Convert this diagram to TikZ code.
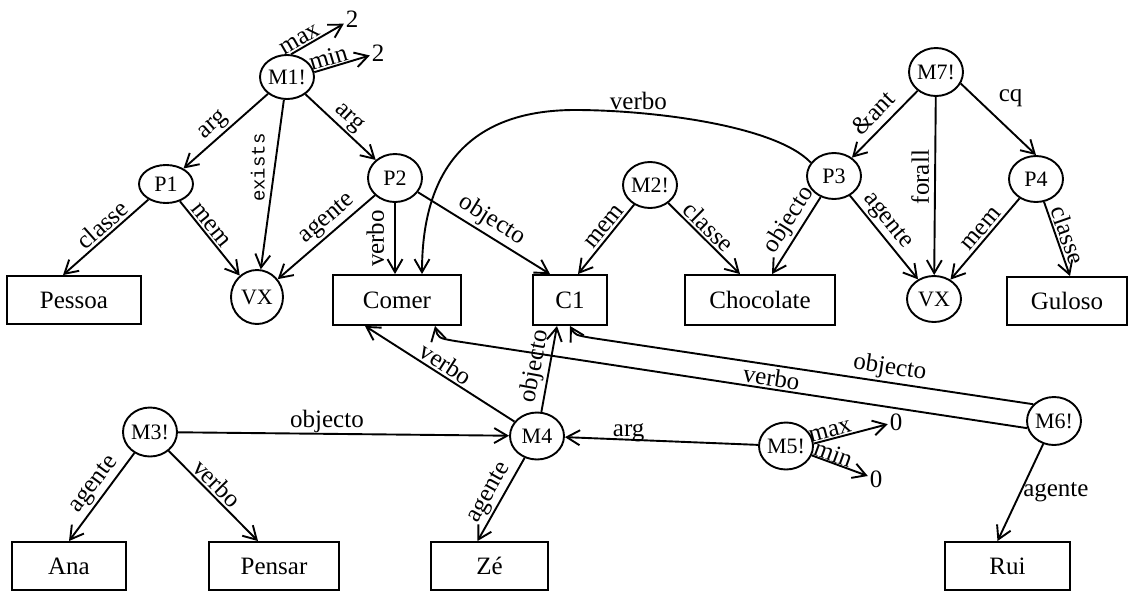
\documentclass[tikz,border=0pt]{standalone}
\usepackage{fontspec}
\setmainfont{Liberation Serif}
\newfontfamily\monofont{Liberation Mono}
\usetikzlibrary{arrows.meta,shapes.geometric}
\begin{document}
\begin{tikzpicture}[x=1pt,y=-1pt,
  line width=1.9pt,
  >={Straight Barb[length=13pt,width=15pt]},
  ell/.style={draw, ellipse, inner sep=0pt, minimum width=54pt, minimum height=46pt, font=\fontsize{22}{22}\selectfont},
  box/.style={draw, rectangle, inner sep=0pt, minimum width=#1, minimum height=48pt, font=\fontsize{25}{25}\selectfont},
  lab/.style={font=\fontsize{25}{25}\selectfont, inner sep=2pt},
  mlab/.style={font=\monofont\fontsize{19}{19}\selectfont, inner sep=2pt},
  num/.style={font=\fontsize{25}{25}\selectfont, inner sep=1pt},
]
\useasboundingbox (0,0) rectangle (1130,592);

% ellipse nodes
\node[ell, minimum height=44pt] (M1) at (287,77) {M1!};
\node[ell, minimum height=38pt] (P1) at (166,184) {P1};
\node[ell, minimum width=52pt, minimum height=54pt] (VXa) at (257,297) {VX};
\node[ell, minimum height=48pt] (P2) at (395,178) {P2};
\node[ell] (M2) at (650,185) {M2!};
\node[ell] (P3) at (834,176) {P3};
\node[ell, minimum height=48pt] (M7) at (936,72) {M7!};
\node[ell] (P4) at (1036,179) {P4};
\node[ell] (VXb) at (934,299) {VX};
\node[ell, minimum height=49pt] (M3) at (150,432) {M3!};
\node[ell, minimum height=47pt] (M4) at (537,436) {M4};
\node[ell, minimum height=47pt] (M5) at (786,446) {M5!};
\node[ell, minimum height=48pt] (M6) at (1054,421) {M6!};

% boxes
\node[box=134pt] (Pessoa) at (74,300) {Pessoa};
\node[box=128pt, minimum height=50pt] (Comer) at (397,300) {Comer};
\node[box=74pt, minimum height=50pt] (C1) at (570,300) {C1};
\node[box=150pt, minimum height=50pt] (Choc) at (760,300) {Chocolate};
\node[box=120pt] (Guloso) at (1067,301) {Guloso};
\node[box=114pt] (Ana) at (69,566) {Ana};
\node[box=130pt] (Pensar) at (274,566) {Pensar};
\node[box=117pt] (Ze) at (489.5,566) {Zé};
\node[box=125pt] (Rui) at (1007.5,566) {Rui};

% number nodes
\node[num] (mx1) at (352,19) {2};
\node[num] (mn1) at (378,53) {2};
\node[num] (mx5) at (896,422) {0};
\node[num] (mn5) at (876,479) {0};

% M1
\draw[->] (M1.80) -- node[lab, sloped, above, pos=0.25, inner sep=1pt]{max} (mx1);
\draw[->] (M1.10) -- node[lab, sloped, above, pos=0.3, inner sep=1pt]{min} (mn1);
\draw[->] (M1) -- node[lab, sloped, above, pos=0.55]{arg} (P1);
\draw[->] (M1) -- node[lab, sloped, above]{arg} (P2);
\draw[->] (M1) -- node[mlab, pos=0.4, rotate=90, anchor=south, inner sep=9pt]{exists} (VXa);

% P1, P2
\draw[->] (P1) -- node[lab, sloped, above, pos=0.45]{classe} ([xshift=-11pt]Pessoa.north);
\draw[->] (P1) -- node[lab, sloped, above, pos=0.4]{mem} (VXa);
\draw[->] (P2) -- node[lab, sloped, above, pos=0.4]{agente} (VXa);
\draw[->] (P2) -- node[lab, rotate=90, anchor=south, inner sep=10pt]{verbo} (P2 |- Comer.north);
\draw[->] (P2) -- node[lab, sloped, above, inner sep=3pt]{objecto} ([xshift=-20pt]C1.north);

% M2
\draw[->] (M2) -- node[lab, sloped, above, pos=0.4]{mem} ([xshift=8pt]C1.north);
\draw[->] (M2) -- node[lab, sloped, above, pos=0.45]{classe} ([xshift=-20pt]Choc.north);

% P3
\coordinate (vpk) at (575,110);
\draw[->] (P3.150) .. controls (775,125) and (650,110) .. (vpk) node[lab, pos=0.75, above]{verbo}
   .. controls (500,110) and (422,140) .. ([xshift=25pt]Comer.north);
\draw[->] (P3) -- node[lab, sloped, above, pos=0.4]{objecto} ([xshift=12pt]Choc.north);
\draw[->] (P3) -- node[lab, sloped, above, pos=0.4]{agente} (VXb);

% M7, P4
\draw[->] (M7) -- node[lab, sloped, above, pos=0.5, inner sep=7pt]{\&ant} (P3);
\draw[->] (M7) -- node[lab, pos=0.45, rotate=90, anchor=south, inner sep=5pt]{forall} (VXb);
\draw[->] (M7.-25) -- node[lab, pos=0.2, anchor=west, xshift=20pt]{cq} (P4.north);
\draw[->] (P4) -- node[lab, sloped, above, pos=0.45]{mem} (VXb);
\draw[->] (P4) -- node[lab, sloped, above]{classe} ([xshift=3pt]Guloso.north);

% M3
\draw[->] (M3) -- node[lab, sloped, above, pos=0.45]{agente} (Ana.north);
\draw[->] (M3) -- node[lab, sloped, above, pos=0.45]{verbo} ([xshift=-16pt]Pensar.north);
\draw[->] (M3) -- node[lab, above, pos=0.45, inner sep=0pt]{objecto} (M4);

% M4
\draw[->] (M4) -- node[lab, sloped, above]{verbo} ([xshift=-32pt]Comer.south);
\draw[->] (M4) -- node[lab, sloped, above]{objecto} ([xshift=-13pt]C1.south);
\draw[->] (M4) -- node[lab, sloped, above]{agente} ([xshift=-12pt]Ze.north);

% M5
\draw[->] (M5) -- node[lab, above, pos=0.67, inner sep=0pt, yshift=-3pt]{arg} (M4);
\draw[->] (M5.5) -- node[lab, sloped, above, pos=0.25, inner sep=1pt]{max} (mx5);
\draw[->] (M5.-20) -- node[lab, sloped, above, pos=0.33, inner sep=0pt]{min} (mn5);

% M6
\coordinate (ok) at (592,338);
\coordinate (vk) at (455,341);
\draw[->] (M6.141) -- node[lab, sloped, above, pos=0.33]{objecto} (ok) .. controls (575,335) .. (C1.south);
\draw[->] (M6.195) -- node[lab, sloped, above, pos=0.45]{verbo} (vk) .. controls (438,338) .. ([xshift=38pt]Comer.south);
\draw[->] (M6) -- node[lab, right, pos=0.5]{agente} ([xshift=-10pt]Rui.north);
\end{tikzpicture}
\end{document}
